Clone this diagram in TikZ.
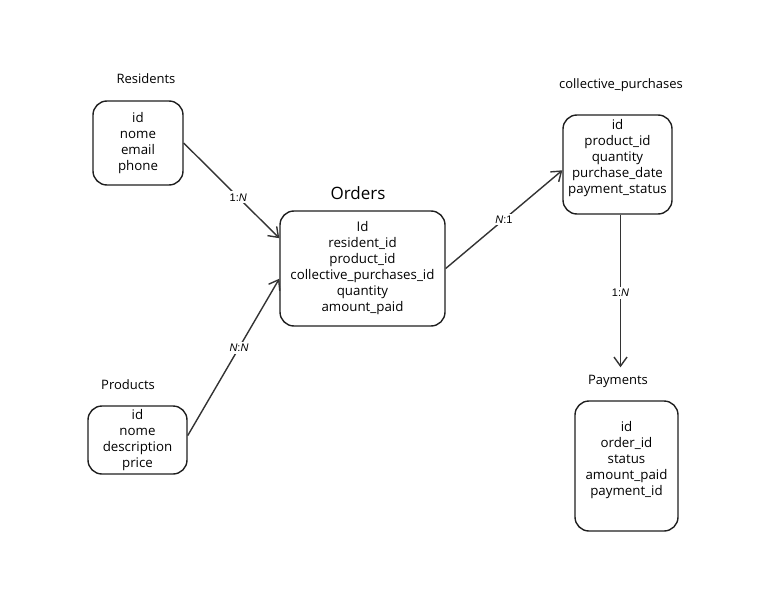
\documentclass[tikz,border=0pt]{standalone}
\usepackage{fontspec}
\setmainfont{Open Sans}
\newfontfamily\cardfont{Liberation Sans}
\usetikzlibrary{arrows.meta,calc,positioning}

\begin{document}
\begin{tikzpicture}[x=1pt, y=-1pt,
	table/.style = {draw=black!88, line width=1.4pt, rounded corners=14pt, align=center, inner sep=0pt, font=\fontsize{13.3}{16}\selectfont},
	title/.style = {font=\fontsize{13}{15}\selectfont},
	rel/.style = {draw=black!80, line width=1.4pt, -{Straight Barb[length=9pt,width=13pt,line width=1.4pt]}},
	card/.style = {fill=white, inner sep=2pt, font=\cardfont\fontsize{11}{12}\selectfont}]
	\useasboundingbox (0,0) rectangle (773,607);
	\node[table, minimum width=90pt, minimum height=84pt] (res) at (138,143) {id\\nome\\email\\phone};
	\node[table, minimum width=165pt, minimum height=115pt] (ord) at (362.5,268.5) {Id\\resident\_id\\product\_id\\collective\_purchases\_id\\quantity\\amount\_paid};
	\node[table, minimum width=109pt, minimum height=99pt] (cp) at (617.5,164.5) {id\\product\_id\\quantity\\purchase\_date\\payment\_status\\\mbox{}};
	\node[table, minimum width=99pt, minimum height=68pt] (prod) at (137.5,440) {id\\nome\\description\\price};
	\node[table, minimum width=103pt, minimum height=130pt] (pay) at (626.5,466) {id\\order\_id\\status\\amount\_paid\\payment\_id\\\mbox{}};
	\node[title] (restitle) at (146,79) {Residents};
	\node[title, font=\fontsize{17}{19}\selectfont] (ordtitle) at (358,193) {Orders};
	\node[title] (cptitle) at (621,85) {collective\_purchases};
	\node[title] (prodtitle) at (128,385) {Products};
	\node[title] (paytitle) at (618,381) {Payments};
	\draw[rel] (res.east) -- node[card, pos=0.57] {1:\textit{N}} (ord.160);
	\draw[rel] (prod.5) -- node[card, pos=0.56] {\textit{N}:\textit{N}} (ord.187);
	\draw[rel] (ord.east) -- node[card, pos=0.5] {\textit{N}:1} (cp.186);
	\draw[rel, shorten >=4pt] ([xshift=3pt]cp.south) -- node[card, pos=0.5] {1:\textit{N}} ([xshift=3pt]cp.south |- paytitle.north);
\end{tikzpicture}
\end{document}
